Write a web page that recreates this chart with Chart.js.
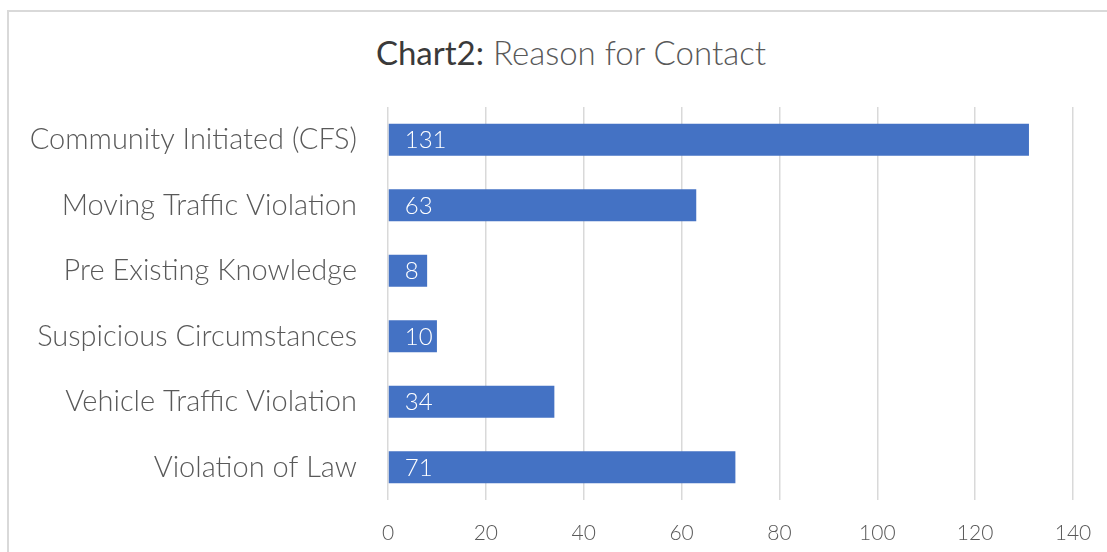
<!DOCTYPE html>
<html>
<head>
<meta charset="utf-8">
<script src="https://cdn.jsdelivr.net/npm/chart.js@4.4.1/dist/chart.umd.min.js"></script>
<style>
  html, body { margin: 0; padding: 0; background: #ffffff; }
  #wrap { position: relative; width: 1107px; height: 552px; overflow: hidden; }
  #frame { position: absolute; left: 7px; top: 10px; width: 1110px; height: 560px;
           border-top: 2px solid #d9d9d9; border-left: 2px solid #d9d9d9; box-sizing: border-box; }
  #title { position: absolute; left: 0; width: 1142px; top: 29px; text-align: center;
           font-family: Lato, "Open Sans", sans-serif; font-size: 33px; line-height: 46px; color: #595959; font-weight: 300; }
  #title b { font-weight: 400; color: #3a3a3a; }
  #c { position: absolute; left: 0; top: 0; }
</style>
</head>
<body>
<div id="wrap">
  <div id="frame"></div>
  <div id="title"><b>Chart2:</b> Reason for Contact</div>
  <canvas id="c" width="1107" height="552"></canvas>
</div>
<script>
const categories = [
  "Community Initiated (CFS)",
  "Moving Traffic Violation",
  "Pre Existing Knowledge",
  "Suspicious Circumstances",
  "Vehicle Traffic Violation",
  "Violation of Law"
];
const contactCounts = [131, 63, 8, 10, 34, 71];
const tickValues = [0, 20, 40, 60, 80, 100, 120, 140];

const FONT = "Lato, 'Open Sans', sans-serif";

const valueLabels = {
  id: 'valueLabels',
  afterDatasetsDraw(chart) {
    const ctx = chart.ctx;
    const meta = chart.getDatasetMeta(0);
    ctx.save();
    ctx.fillStyle = '#ffffff';
    ctx.font = "300 24px " + FONT;
    ctx.textAlign = 'left';
    ctx.textBaseline = 'middle';
    meta.data.forEach((el, i) => {
      ctx.fillText(String(chart.data.datasets[0].data[i]), el.base + 16, el.y + 1);
    });
    ctx.restore();
  }
};

new Chart(document.getElementById('c'), {
  type: 'bar',
  data: {
    labels: categories,
    datasets: [{
      data: contactCounts,
      backgroundColor: '#4472c4',
      borderWidth: 0,
      categoryPercentage: 1.0,
      barPercentage: 0.49
    }]
  },
  options: {
    indexAxis: 'y',
    responsive: false,
    animation: false,
    events: [],
    layout: { padding: { left: 0, right: 34, top: 107, bottom: 0 } },
    plugins: {
      legend: { display: false },
      title: { display: false },
      tooltip: { enabled: false }
    },
    scales: {
      x: {
        min: 0,
        max: 140,
        afterBuildTicks(scale) { scale.ticks = tickValues.map(v => ({ value: v })); },
        afterFit(scale) { scale.height = 52; scale.paddingRight = 0; scale.paddingLeft = 0; },
        grid: { color: '#d9d9d9', lineWidth: 1.5, drawTicks: false },
        border: { display: false },
        ticks: { color: '#595959', font: { family: FONT, size: 21, weight: '300' }, padding: 21 }
      },
      y: {
        afterFit(scale) { scale.width = 388; },
        grid: { display: false, drawTicks: false },
        border: { display: false },
        ticks: { color: '#595959', font: { family: FONT, size: 29, weight: '300' }, padding: 31 }
      }
    }
  },
  plugins: [valueLabels]
});
</script>
</body>
</html>
